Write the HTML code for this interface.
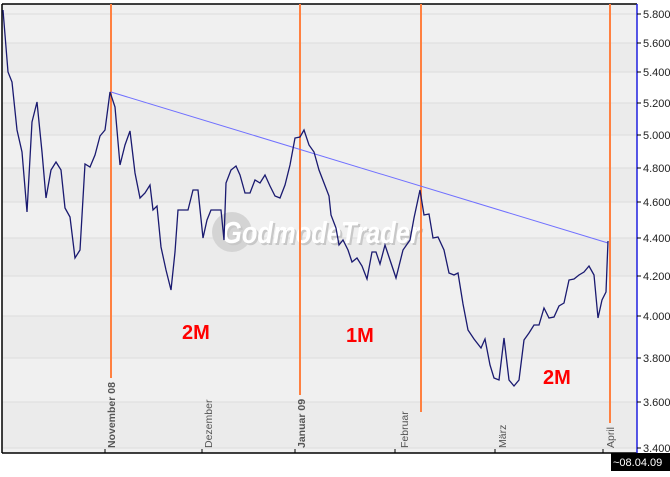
<!DOCTYPE html>
<html><head><meta charset="utf-8"><style>
body{margin:0;background:#fff;width:670px;height:472px;overflow:hidden;font-family:"Liberation Sans",sans-serif}
</style></head><body>
<svg width="670" height="472" xmlns="http://www.w3.org/2000/svg" font-family="Liberation Sans, sans-serif">
<rect x="0" y="0" width="670" height="472" fill="#fff"/>
<rect x="2" y="4" width="635" height="449" fill="#f0f0f0"/>
<g fill="#ebebeb">
<rect x="2" y="43" width="635" height="29"/>
<rect x="2" y="103" width="635" height="32"/>
<rect x="2" y="168" width="635" height="34"/>
<rect x="2" y="238" width="635" height="38"/>
<rect x="2" y="316" width="635" height="42"/>
<rect x="2" y="402" width="635" height="46"/>
</g>
<g stroke="#dcdcdc" stroke-width="1">
<line x1="2" x2="637" y1="14" y2="14"/><line x1="2" x2="637" y1="43" y2="43"/>
<line x1="2" x2="637" y1="72" y2="72"/><line x1="2" x2="637" y1="103" y2="103"/>
<line x1="2" x2="637" y1="135" y2="135"/><line x1="2" x2="637" y1="168" y2="168"/>
<line x1="2" x2="637" y1="202" y2="202"/><line x1="2" x2="637" y1="238" y2="238"/>
<line x1="2" x2="637" y1="276" y2="276"/><line x1="2" x2="637" y1="316" y2="316"/>
<line x1="2" x2="637" y1="358" y2="358"/><line x1="2" x2="637" y1="402" y2="402"/>
<line x1="2" x2="637" y1="448" y2="448"/>
</g>
<!-- watermark -->
<circle cx="232" cy="232" r="20" fill="#d4d4d4"/>
<text x="224" y="245" font-size="31" font-weight="bold" font-style="italic" fill="#c8c8c8" textLength="198" lengthAdjust="spacingAndGlyphs">GodmodeTrader</text>
<text x="222" y="243" font-size="31" font-weight="bold" font-style="italic" fill="#fff" textLength="198" lengthAdjust="spacingAndGlyphs">GodmodeTrader</text>
<!-- axes -->
<line x1="2" y1="4" x2="637" y2="4" stroke="#000" stroke-width="1.5"/>
<line x1="2" y1="4" x2="2" y2="453" stroke="#000" stroke-width="1.5"/>
<line x1="2" y1="453" x2="637" y2="453" stroke="#000" stroke-width="1.5"/>
<line x1="637" y1="4" x2="637" y2="453" stroke="#2020e0" stroke-width="1.5"/>
<g stroke="#000" stroke-width="1">
<line x1="637" x2="641" y1="14" y2="14"/><line x1="637" x2="641" y1="43" y2="43"/>
<line x1="637" x2="641" y1="72" y2="72"/><line x1="637" x2="641" y1="103" y2="103"/>
<line x1="637" x2="641" y1="135" y2="135"/><line x1="637" x2="641" y1="168" y2="168"/>
<line x1="637" x2="641" y1="202" y2="202"/><line x1="637" x2="641" y1="238" y2="238"/>
<line x1="637" x2="641" y1="276" y2="276"/><line x1="637" x2="641" y1="316" y2="316"/>
<line x1="637" x2="641" y1="358" y2="358"/><line x1="637" x2="641" y1="402" y2="402"/>
<line x1="637" x2="641" y1="448" y2="448"/>
<line x1="105" x2="105" y1="449" y2="453"/><line x1="202" x2="202" y1="449" y2="453"/>
<line x1="295" x2="295" y1="449" y2="453"/><line x1="395" x2="395" y1="449" y2="453"/>
<line x1="495" x2="495" y1="449" y2="453"/><line x1="603" x2="603" y1="449" y2="453"/>
</g>
<g font-size="11" fill="#222">
<text x="643" y="18">5.800</text><text x="643" y="47">5.600</text>
<text x="643" y="76">5.400</text><text x="643" y="107">5.200</text>
<text x="643" y="139">5.000</text><text x="643" y="172">4.800</text>
<text x="643" y="206">4.600</text><text x="643" y="242">4.400</text>
<text x="643" y="280">4.200</text><text x="643" y="320">4.000</text>
<text x="643" y="362">3.800</text><text x="643" y="406">3.600</text>
<text x="643" y="452">3.400</text>
</g>
<g font-size="10.5" fill="#555">
<text transform="translate(115,448) rotate(-90)" font-weight="bold">November 08</text>
<text transform="translate(212,448) rotate(-90)">Dezember</text>
<text transform="translate(305,448) rotate(-90)" font-weight="bold">Januar 09</text>
<text transform="translate(408,448) rotate(-90)">Februar</text>
<text transform="translate(506,448) rotate(-90)">März</text>
<text transform="translate(614,448) rotate(-90)">April</text>
</g>
<g stroke="#ff8040" stroke-width="2">
<line x1="111" y1="4" x2="111" y2="378"/>
<line x1="300" y1="4" x2="300" y2="395"/>
<line x1="421" y1="4" x2="421" y2="412"/>
<line x1="610" y1="4" x2="610" y2="423"/>
</g>
<line x1="111" y1="92" x2="608" y2="243" stroke="#7070ff" stroke-width="1"/>
<polyline fill="none" stroke="#1a1a70" stroke-width="1.3" points="3,10 8,72 12,82 17,130 22,152 27,212 32,122 37,102 42,152 46,198 51,170 56,162 61,170 65,208 70,217 75,258 80,250 85,164 90,167 95,155 100,136 105,130 110,92 115,107 120,165 125,145 130,131 135,173 140,198 145,193 150,185 153,210 157,206 161,247 166,270 171,290 175,252 178,210 183,210 188,210 193,190 198,190 203,238 207,220 211,210 216,210 221,210 224,240 226,183 231,170 236,166 240,175 245,193 250,193 255,180 260,183 265,175 270,186 275,196 280,198 285,185 290,165 295,138 300,137 304,130 309,145 314,152 319,170 324,183 329,196 331,215 336,228 339,245 343,240 348,250 352,262 357,258 362,266 367,279 372,252 376,252 380,264 385,245 390,260 396,278 403,250 410,240 414,218 420,190 424,215 429,214 433,238 438,237 444,250 449,273 454,275 458,273 463,304 468,330 474,339 481,348 485,339 490,365 494,378 499,380 504,338 509,380 514,386 519,380 524,340 529,333 534,325 539,325 544,308 549,318 554,317 559,306 564,303 569,280 574,279 579,275 584,272 589,266 594,275 598,318 602,300 606,292 608,241"/>
<g font-size="20" font-weight="bold" fill="#ff0000">
<text x="182" y="339">2M</text>
<text x="346" y="342">1M</text>
<text x="543" y="384">2M</text>
</g>
<rect x="611" y="453" width="59" height="18" fill="#000"/>
<text x="613" y="466" font-size="11" fill="#fff">~08.04.09</text>
</svg>
</body></html>
